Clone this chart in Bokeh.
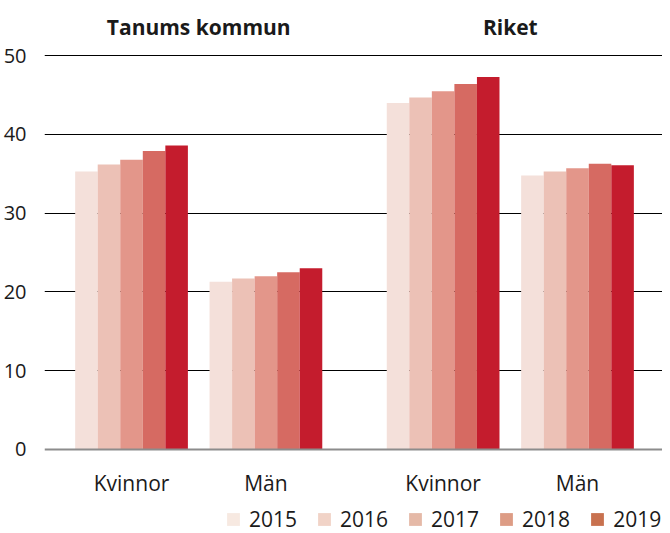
from bokeh.plotting import figure
from bokeh.models import (ColumnDataSource, FixedTicker, Legend, LegendItem, Label, Range1d, Span)
from bokeh.core.properties import value
from bokeh.embed import file_html
from bokeh.resources import INLINE

# ---- data ----
years = ["2015", "2016", "2017", "2018", "2019"]
panels = ["Tanums kommun", "Riket"]
genders = ["Kvinnor", "Män"]
tanum_kvinnor = [35.3, 36.2, 36.8, 37.9, 38.6]
tanum_man = [21.3, 21.7, 22.0, 22.5, 23.0]
riket_kvinnor = [44.0, 44.7, 45.5, 46.4, 47.3]
riket_man = [34.8, 35.3, 35.7, 36.3, 36.1]
y_ticks = [0, 10, 20, 30, 40, 50]

values = {
    ("Tanums kommun", "Kvinnor"): tanum_kvinnor,
    ("Tanums kommun", "Män"): tanum_man,
    ("Riket", "Kvinnor"): riket_kvinnor,
    ("Riket", "Män"): riket_man,
}

bar_colors = ["#f4e0da", "#ecc1b6", "#e3968a", "#d66a62", "#c41c2d"]
legend_colors = ["#f7e9e1", "#f1d3c7", "#e5b9a7", "#dd9c85", "#c8714f"]

# layout constants (in bar-width units)
PANEL_STEP = 13.82
GENDER_STEP = 5.96
FONT = "Open Sans"
TEXT = "#1a1a1a"

p = figure(width=662, height=533, output_backend="svg", toolbar_location=None,
           x_range=Range1d(-1.36, 26.05), y_range=Range1d(-10.67, 56.0),
           min_border_left=37, min_border_right=0, min_border_top=8,
           min_border_bottom=0)
p.outline_line_color = None
p.background_fill_color = "white"
p.xaxis.visible = False

for yi, yr in enumerate(years):
    xs, tops = [], []
    for pi, pan in enumerate(panels):
        for gi, g in enumerate(genders):
            xs.append(pi * PANEL_STEP + gi * GENDER_STEP + yi + 0.5)
            tops.append(values[(pan, g)][yi])
    src = ColumnDataSource(dict(x=xs, top=tops))
    p.vbar(x="x", top="top", bottom=0, width=1.0, source=src,
           fill_color=bar_colors[yi], line_color=None)

# zero line
p.add_layout(Span(location=0, dimension="width", line_color="#8c8c8c", line_width=2))

# category labels and panel titles
lx, ly, lt = [], [], []
for pi, pan in enumerate(panels):
    for gi, g in enumerate(genders):
        lx.append(pi * PANEL_STEP + gi * GENDER_STEP + len(years) / 2)
        ly.append(-4.3)
        lt.append(g)
    center = pi * PANEL_STEP + (GENDER_STEP + len(years)) / 2
    p.add_layout(Label(x=center, y=53.6, text=pan, text_align="center",
                       text_baseline="middle", text_font=FONT,
                       text_font_style="bold", text_font_size="21px",
                       text_color=TEXT))
p.text(x=lx, y=ly, text=lt, text_align="center", text_baseline="middle",
       text_font=value(FONT), text_font_size="21px", text_color=TEXT)

# legend (separate swatch colours, as in original); invisible NaN-only renderers
nan = float("nan")
items = []
for yi, yr in enumerate(years):
    r = p.vbar(x=[nan], top=[nan], width=1.0, fill_color=legend_colors[yi], line_color=None)
    items.append(LegendItem(label=yr, renderers=[r]))
legend = Legend(items=items, orientation="horizontal", location=(181, 0),
                glyph_width=16, glyph_height=16, label_standoff=8, spacing=19,
                padding=0, margin=0, border_line_color=None,
                background_fill_alpha=0, label_text_font=FONT,
                label_text_font_size="21px", label_text_color=TEXT)
p.add_layout(legend, "center")

# y axis
p.yaxis.ticker = FixedTicker(ticks=y_ticks)
p.yaxis.axis_line_color = None
p.yaxis.major_tick_line_color = None
p.yaxis.minor_tick_line_color = None
p.yaxis.major_label_standoff = 12
p.yaxis.major_label_text_font = FONT
p.yaxis.major_label_text_font_size = "20px"
p.yaxis.major_label_text_color = TEXT

p.xgrid.grid_line_color = None
p.ygrid.ticker = FixedTicker(ticks=[10, 20, 30, 40, 50])
p.ygrid.grid_line_color = "#000000"
p.ygrid.grid_line_width = 1

open("out.html", "w").write(file_html(p, INLINE))
